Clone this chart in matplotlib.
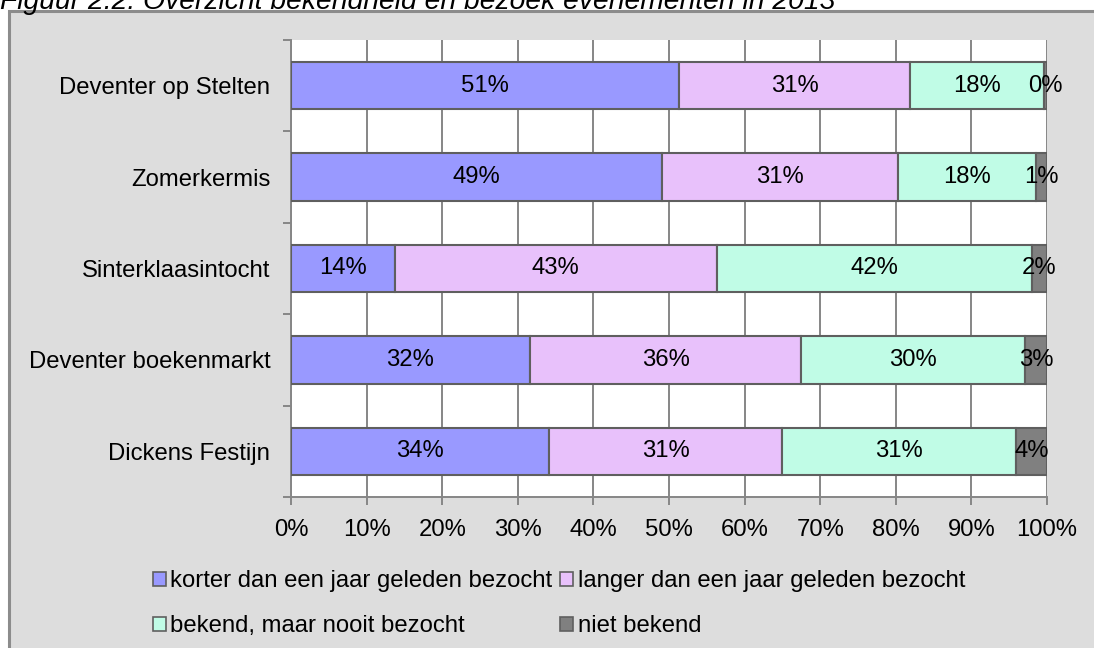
import numpy as np
import matplotlib
matplotlib.use("Agg")
import matplotlib.pyplot as plt
from matplotlib.patches import Rectangle, Patch

plt.rcParams['font.family'] = ['Liberation Sans', 'DejaVu Sans']

# data (percentages)
events = ['Deventer op Stelten', 'Zomerkermis', 'Sinterklaasintocht',
          'Deventer boekenmarkt', 'Dickens Festijn']
series = ['korter dan een jaar geleden bezocht',
          'langer dan een jaar geleden bezocht',
          'bekend, maar nooit bezocht',
          'niet bekend']
korter = [51.3, 49.1, 13.7, 31.6, 34.1]
langer = [30.6, 31.2, 42.6, 35.9, 30.9]
bekend = [17.7, 18.3, 41.7, 29.6, 30.9]
niet_bekend = [0.4, 1.4, 2.0, 2.9, 4.1]
x_ticks = [0, 10, 20, 30, 40, 50, 60, 70, 80, 90, 100]

colors = ['#9999ff', '#e8c1fb', '#c0fce6', '#808080']
grid_col = '#868686'
fs = 17.2

fig = plt.figure(figsize=(10.94, 6.48), dpi=100)
fig.patch.set_facecolor('white')

# grey outer box
fig.patches.append(Rectangle((9 / 1094, -0.1), 1.2, 1 - 11 / 648 + 0.1,
                             transform=fig.transFigure, facecolor='#dddddd',
                             edgecolor='#8c8c8c', linewidth=2.2, zorder=-10))
# title is partly cut off at the top, as in the original
fig.text(0.0, 1 - 9 / 648, 'Figuur 2.2: Overzicht bekendheid en bezoek evenementen in 2013',
         fontsize=20.3, style='italic', va='baseline', ha='left')

ax = fig.add_axes([291 / 1094, 1 - 497 / 648, 756 / 1094, 457 / 648])
ax.set_facecolor('white')

y = np.arange(len(events))
left = np.zeros(len(events))
for vals, name, col in zip([korter, langer, bekend, niet_bekend], series, colors):
    vals = np.array(vals)
    ax.barh(y, vals, left=left, height=0.52, color=col, edgecolor='#5f5f5f',
            linewidth=1.5, label=name, zorder=3)
    for yi, l, v in zip(y, left, vals):
        ax.text(l + v / 2, yi, f'{v:.0f}%', ha='center', va='center',
                fontsize=fs, zorder=4)
    left = left + vals

ax.set_xlim(0, 100)
ax.set_ylim(len(events) - 0.5, -0.5)
ax.set_xticks(x_ticks)
ax.set_xticklabels([f'{t}%' for t in x_ticks], fontsize=fs)
ax.xaxis.grid(True, color=grid_col, linewidth=1.4, zorder=0)
ax.set_axisbelow(True)

ax.set_yticks(y)
ax.set_yticklabels(events, fontsize=fs)
ax.set_yticks(np.arange(len(events) + 1) - 0.5, minor=True)
ax.tick_params(axis='y', which='major', length=0, pad=15)
ax.tick_params(axis='y', which='minor', length=6, width=1.4, color=grid_col)
ax.tick_params(axis='x', length=6, width=1.4, color=grid_col, pad=10)

for s in ['top', 'right']:
    ax.spines[s].set_visible(False)
for s in ['left', 'bottom']:
    ax.spines[s].set_color(grid_col)
    ax.spines[s].set_linewidth(1.4)

handles = [Patch(facecolor=c, edgecolor='#5f5f5f', linewidth=1.2) for c in colors]
order = [0, 2, 1, 3]
fig.legend([handles[i] for i in order], [series[i] for i in order], ncol=2,
           loc='upper left', bbox_to_anchor=(131 / 1094, 1 - 549 / 648),
           frameon=False, fontsize=fs, handlelength=0.55, handleheight=0.55,
           handletextpad=0.2, columnspacing=0.3, labelspacing=0.95)

fig.savefig('out.png', dpi=100, facecolor=fig.get_facecolor())
